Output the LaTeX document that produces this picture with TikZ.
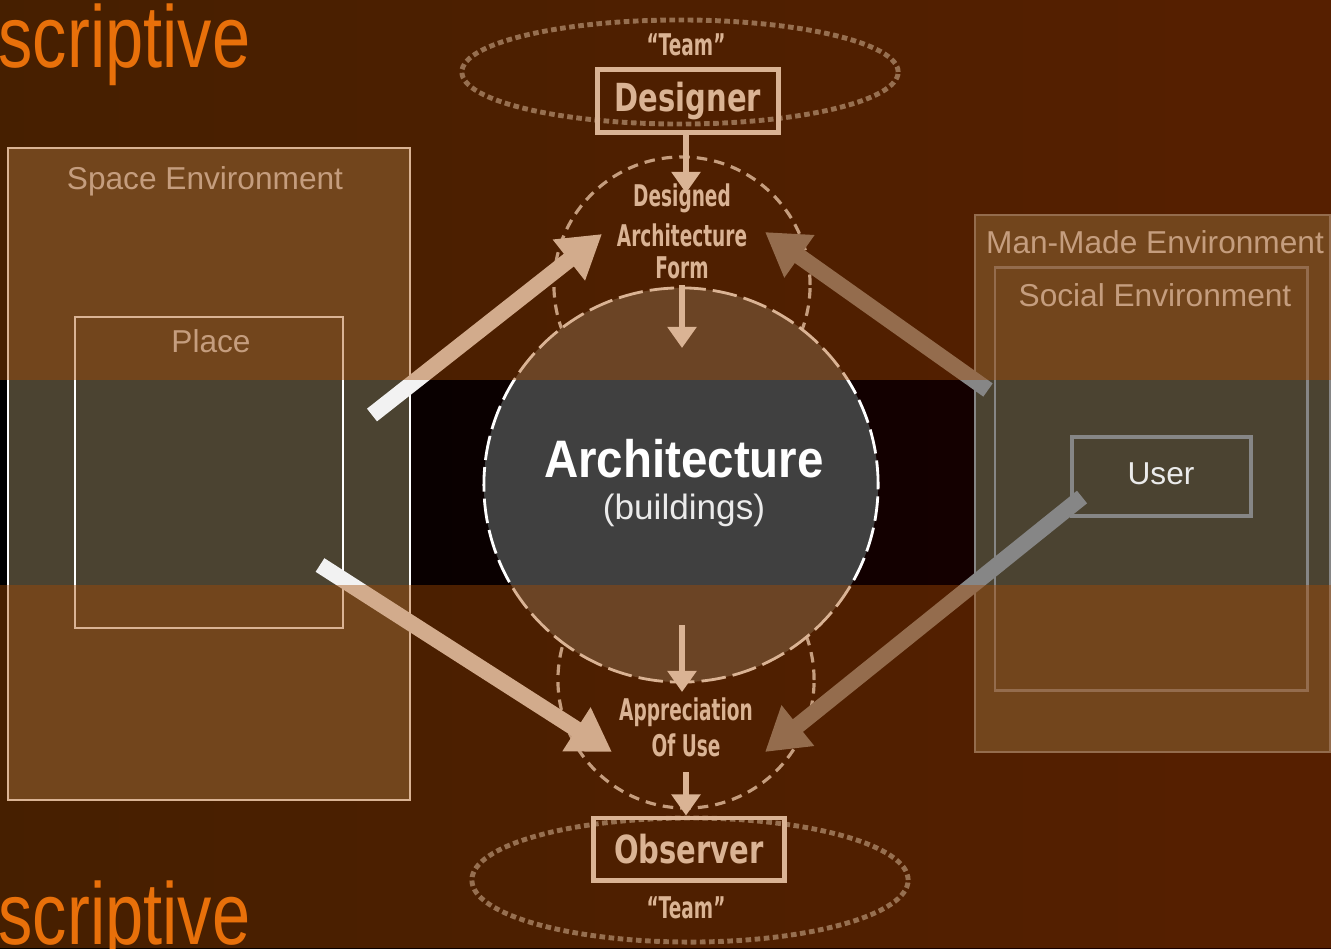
\documentclass[tikz,border=0pt]{standalone}
\usepackage{fontspec}
\usepackage{graphicx}
\setmainfont{Liberation Sans}
\newfontfamily\djb{DejaVu Sans}
\usetikzlibrary{shapes.geometric,arrows.meta}
\definecolor{bgor}{HTML}{A84A00}
\definecolor{olivebox}{HTML}{4B4331}
\definecolor{circg}{HTML}{404040}
\definecolor{boxg}{HTML}{868686}
\definecolor{ttl}{HTML}{E8700A}
\definecolor{darkred}{HTML}{1C0000}
\definecolor{lightg}{HTML}{DADADA}
\definecolor{ellg}{HTML}{8A8A8A}
\newcommand{\cnd}[1]{\scalebox{0.62}[1]{#1}}
\tikzset{
  envbox/.style={fill=olivebox, inner sep=0pt},
  lbl/.style={text=lightg, font=\fontsize{9}{10}\selectfont, inner sep=0pt},
  wbox/.style={draw=white, line width=1.4pt, inner sep=0pt},
  boldlbl/.style={text=white, font=\djb\bfseries\fontsize{8.5}{10}\selectfont, inner sep=0pt},
  smalllbl/.style={text=white, font=\djb\bfseries\fontsize{8.5}{10}\selectfont, inner sep=0pt},
  ellstyle/.style={ellipse, draw=ellg, line width=1.4pt, dash pattern=on 1.6pt off 1pt, inner sep=0pt},
  smallcirc/.style={circle, draw=lightg, line width=0.9pt, dash pattern=on 3pt off 2pt, inner sep=0pt, minimum size=2.56cm},
  bigw/.style={draw=white!95!black, line width=4.6pt, -{Triangle[length=12pt,width=14pt]}},
  bigg/.style={draw=boxg, line width=4.6pt, -{Triangle[length=12pt,width=14pt]}},
  smallarr/.style={draw=white, line width=1.5pt, -{Triangle[length=6pt,width=8pt]}},
  ttltext/.style={text=ttl, font=\fontsize{25}{25}\selectfont, inner sep=0pt, anchor=base west}
}
\begin{document}
\begin{tikzpicture}[x=0.01cm,y=-0.01cm]
\useasboundingbox (0,0) rectangle (1331,948);
\shade[left color=black,right color=darkred] (0,0) rectangle (1331,948);

% left environment
\node[envbox, draw=white, line width=0.7pt, minimum width=4.02cm, minimum height=6.52cm] (spaceenv) at (209,474) {};
\node[lbl] (spacelbl) at (205,181) {Space Environment};
\node[draw=white, line width=0.6pt, minimum width=2.68cm, minimum height=3.11cm, inner sep=0pt] (place) at (209,472.5) {};
\node[lbl] (placelbl) at (211,341) {Place};

% right environment
\node[envbox, draw=boxg, line width=0.7pt, minimum width=3.55cm, minimum height=5.37cm] (manmade) at (1152.5,483.5) {};
\node[lbl] (manmadelbl) at (1155,242) {Man-Made Environment};
\node[draw=boxg, line width=0.8pt, minimum width=3.12cm, minimum height=4.22cm, inner sep=0pt] (social) at (1151,479) {};
\node[lbl] (sociallbl) at (1155,295) {Social Environment};
\node[draw=boxg, line width=1.1pt, minimum width=1.79cm, minimum height=0.79cm, inner sep=0pt] (user) at (1161.5,476.5) {};
\node[lbl, text=white!92!black] (userlbl) at (1161,474) {User};

% team ellipses
\node[ellstyle, minimum width=4.36cm, minimum height=1.04cm] (topell) at (680,72) {};
\node[ellstyle, minimum width=4.36cm, minimum height=1.24cm] (botell) at (690,880) {};
\node[smalllbl] (teamtop) at (686,45) {\cnd{“Team”}};
\node[smalllbl] (teambot) at (686,908) {\cnd{“Team”}};

% designer / observer
\node[wbox, minimum width=1.8cm, minimum height=0.63cm] (designer) at (688,101) {};
\node[boldlbl, font=\djb\bfseries\fontsize{11}{12}\selectfont] (designerlbl) at (688,101) {\scalebox{0.75}[1]{Designer}};
\node[wbox, minimum width=1.9cm, minimum height=0.62cm] (observer) at (689,849) {};
\node[boldlbl, font=\djb\bfseries\fontsize{11}{12}\selectfont] (observerlbl) at (689,849) {\scalebox{0.75}[1]{Observer}};

% small circles
\node[smallcirc] (topc) at (682,285) {};
\node[smallcirc] (botc) at (686,680) {};

% architecture
\node[circle, fill=circg, draw=white, line width=0.8pt, dash pattern=on 7pt off 2pt, minimum size=3.94cm, inner sep=0pt] (arch) at (681,485) {};
\node[text=white, font=\bfseries\fontsize{15}{16}\selectfont, inner sep=0pt] (archlbl) at (684,459) {\scalebox{0.9}[1]{Architecture}};
\node[text=white!92!black, font=\fontsize{10}{11}\selectfont, inner sep=0pt] (archsub) at (684,510) {(buildings)};

% texts in small circles
\node[smalllbl] (topc1) at (682,198) {\cnd{Designed}};
\node[smalllbl] (topc2) at (682,235) {\cnd{Architecture}};
\node[smalllbl] (topc3) at (682,268) {\cnd{Form}};
\node[smalllbl] (botc1) at (686,712) {\cnd{Appreciation}};
\node[smalllbl] (botc2) at (686,745) {\cnd{Of Use}};

% coordinates for arrows
\coordinate (a1s) at (372,415);
\coordinate (a1e) at (602,234);
\coordinate (a2s) at (320,565);
\coordinate (a2e) at (612,752);
\coordinate (a3s) at (988,390);
\coordinate (a3e) at (765,232);
\coordinate (a4s) at (1082,497);
\coordinate (a4e) at (765,752);
\coordinate (v1e) at (686,193);
\coordinate (v2s) at (682,285);
\coordinate (v2e) at (682,348);
\coordinate (v3s) at (682,625);
\coordinate (v3e) at (682,692);
\coordinate (v4s) at (686,772);

\draw[bigw] (a1s) -- (a1e);
\draw[bigw] (a2s) -- (a2e);
\draw[bigg] (a3s) -- (a3e);
\draw[bigg] (a4s) -- (a4e);

\draw[smallarr] (v1e |- designer.south) -- (v1e);
\draw[smallarr] (v2s) -- (v2e);
\draw[smallarr] (v3s) -- (v3e);
\draw[smallarr] (v4s) -- (v4s |- observer.north);

% dither-like overlay outside the middle band
\fill[bgor, opacity=0.42] (0,0) rectangle (1331,380);
\fill[bgor, opacity=0.42] (0,585) rectangle (1331,948);

% title fragments
\node[ttltext] (ttltop) at (-2,67) {\scalebox{0.78}[1]{scriptive}};
\node[ttltext] (ttlbot) at (-2,944) {\scalebox{0.78}[1]{scriptive}};
\end{tikzpicture}
\end{document}
